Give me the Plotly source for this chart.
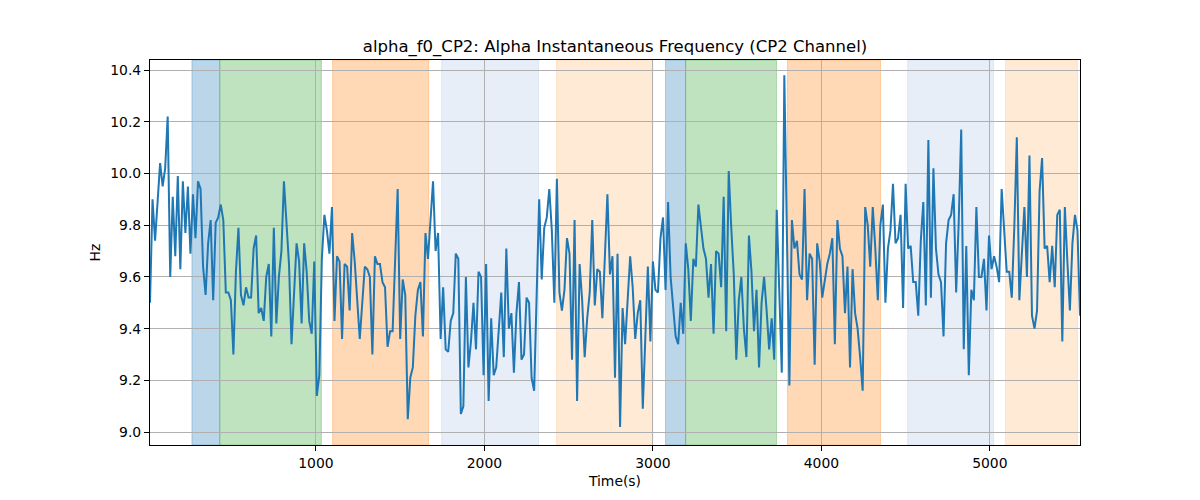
import plotly.graph_objects as go

# Time axis (s): sampled every 15 s starting at 15 s
t_start = 15
t_step = 15

# Alpha instantaneous frequency (Hz)
freq = [
    9.50, 9.90, 9.74, 9.88, 10.04, 9.95, 10.02, 10.22, 9.60, 9.91, 9.68, 9.99, 9.63, 9.97, 9.77, 9.95,
    9.69, 9.92, 9.75, 9.97, 9.94, 9.64, 9.53, 9.73, 9.82, 9.51, 9.81, 9.83, 9.88, 9.82, 9.54, 9.54,
    9.51, 9.30, 9.62, 9.79, 9.53, 9.49, 9.56, 9.52, 9.52, 9.71, 9.76, 9.46, 9.48, 9.43, 9.60, 9.65,
    9.37, 9.79, 9.42, 9.60, 9.70, 9.97, 9.79, 9.65, 9.34, 9.56, 9.73, 9.66, 9.42, 9.73,
    9.62, 9.43, 9.38, 9.66, 9.14, 9.22, 9.67, 9.84, 9.78, 9.69, 9.87, 9.43, 9.68, 9.66, 9.36, 9.65,
    9.64, 9.47, 9.77, 9.66, 9.51, 9.36, 9.50, 9.64, 9.63, 9.60, 9.30, 9.68, 9.65, 9.65, 9.58, 9.56,
    9.33, 9.39, 9.39, 9.64, 9.94, 9.36, 9.59, 9.53, 9.05, 9.21, 9.25, 9.45, 9.55, 9.58, 9.37, 9.77,
    9.67, 9.82, 9.97, 9.70, 9.77, 9.36, 9.56, 9.32, 9.31, 9.43, 9.46, 9.69, 9.67,
    9.07, 9.10, 9.60, 9.25, 9.35, 9.50, 9.32, 9.62, 9.60, 9.22, 9.65, 9.12, 9.44, 9.22, 9.25, 9.38,
    9.54, 9.29, 9.71, 9.40, 9.46, 9.23, 9.46, 9.58, 9.28, 9.30, 9.52, 9.50, 9.21, 9.16, 9.56, 9.90,
    9.59, 9.79, 9.83, 9.94, 9.78, 9.50, 9.98, 9.54, 9.47, 9.55, 9.75, 9.69, 9.28, 9.82, 9.12, 9.65,
    9.51, 9.29, 9.44, 9.54, 9.82, 9.49, 9.63, 9.62, 9.44, 9.67, 9.92, 9.61, 9.68, 9.21,
    9.69, 9.02, 9.48, 9.34, 9.50, 9.68, 9.56, 9.36, 9.46, 9.51, 9.09, 9.40, 9.64, 9.35, 9.66, 9.55,
    9.54, 9.75, 9.83, 9.55, 9.89, 9.60, 9.47, 9.37, 9.34, 9.50, 9.38, 9.73, 9.63, 9.43, 9.67, 9.64,
    9.88, 9.80, 9.71, 9.67, 9.52, 9.65, 9.38, 9.70, 9.69, 9.56, 9.91, 9.39, 10.01, 9.79, 9.61, 9.28,
    9.51, 9.60, 9.40, 9.29, 9.76, 9.62, 9.39, 9.55, 9.25, 9.50, 9.60, 9.47, 9.32,
    9.44, 9.28, 9.86, 9.57, 9.23, 10.38, 9.74, 9.18, 9.82, 9.71, 9.74, 9.61, 9.59, 9.94, 9.51, 9.69,
    9.67, 9.26, 9.73, 9.66, 9.52, 9.58, 9.65, 9.69, 9.75, 9.34, 9.82, 9.71, 9.68, 9.46, 9.64, 9.25,
    9.63, 9.46, 9.40, 9.29, 9.16, 9.87, 9.80, 9.64, 9.87, 9.71, 9.51, 9.80, 9.88, 9.50, 9.71, 9.78,
    9.96, 9.73, 9.75, 9.84, 9.48, 9.96, 9.71, 9.72, 9.58, 9.58, 9.45, 9.74, 9.89,
    9.49, 10.13, 9.52, 10.02, 9.71, 9.61, 9.58, 9.37, 9.73, 9.82, 9.84, 9.92, 9.54, 9.81, 10.17, 9.32,
    9.72, 9.22, 9.55, 9.51, 9.87, 9.60, 9.60, 9.67, 9.47, 9.76, 9.63, 9.68, 9.64, 9.58, 9.94, 9.80,
    9.62, 9.62, 9.52, 9.79, 10.14, 9.51, 9.70, 9.87, 9.60, 10.07, 9.45, 9.40, 9.47, 9.93, 10.06, 9.71,
    9.72, 9.58, 9.72, 9.56, 9.84, 9.86, 9.35, 9.87, 9.66, 9.47, 9.73, 9.84, 9.78, 9.45,
]

times = [t_start + t_step * i for i in range(len(freq))]

# Shaded segments: (start s, end s, fill colour)
span_starts = [264, 429, 1099, 1746, 2428, 3075, 3194, 3799, 4512, 5093]
span_ends = [429, 1032, 1669, 2321, 3000, 3194, 3734, 4351, 5022, 5520]
span_colors = [
    "rgba(31,119,180,0.3)",
    "rgba(44,160,44,0.3)",
    "rgba(255,127,14,0.3)",
    "rgba(174,199,232,0.3)",
    "rgba(255,187,120,0.3)",
    "rgba(31,119,180,0.3)",
    "rgba(44,160,44,0.3)",
    "rgba(255,127,14,0.3)",
    "rgba(174,199,232,0.3)",
    "rgba(255,187,120,0.3)",
]

x_ticks = [1000, 2000, 3000, 4000, 5000]
y_ticks = [9.0, 9.2, 9.4, 9.6, 9.8, 10.0, 10.2, 10.4]

fig = go.Figure()
fig.add_trace(go.Scatter(
    x=times, y=freq, mode="lines",
    line=dict(color="#1f77b4", width=2),
    showlegend=False,
))

for s, e, c in zip(span_starts, span_ends, span_colors):
    fig.add_shape(type="rect", xref="x", yref="paper", x0=s, x1=e, y0=0, y1=1,
                  fillcolor=c, line=dict(color=c, width=1), layer="below")

font_family = "DejaVu Sans"
fig.update_layout(
    width=1200, height=500,
    margin=dict(l=142, r=128, t=52, b=63),
    paper_bgcolor="white", plot_bgcolor="white",
    font=dict(family=font_family, size=14, color="black"),
    title=dict(text="alpha_f0_CP2: Alpha Instantaneous Frequency (CP2 Channel)",
               x=607 / 1200, xanchor="center", y=1 - 38 / 500, yanchor="middle",
               font=dict(size=16.5, family=font_family, color="black")),
)
fig.update_xaxes(
    range=[times[0], times[-1]], tickvals=x_ticks,
    showgrid=True, gridcolor="#b0b0b0", gridwidth=1.1,
    showline=True, linecolor="black", linewidth=1.1, mirror=True,
    ticks="outside", ticklen=5, tickcolor="black", tickwidth=1.1,
    tickfont=dict(size=13.9),
    title=dict(text="Time(s)", font=dict(size=13.9), standoff=6),
    zeroline=False,
)
fig.update_yaxes(
    range=[8.95, 10.439], tickvals=y_ticks, tickformat=".1f",
    showgrid=True, gridcolor="#b0b0b0", gridwidth=1.1,
    showline=True, linecolor="black", linewidth=1.1, mirror=True,
    ticks="outside", ticklen=5, tickcolor="black", tickwidth=1.1,
    tickfont=dict(size=13.9),
    title=dict(text="Hz", font=dict(size=13.9), standoff=6),
    zeroline=False,
)

fig.write_html("out.html")
